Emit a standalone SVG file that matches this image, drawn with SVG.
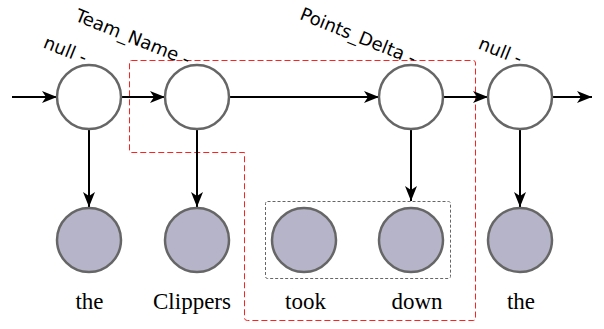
<svg xmlns="http://www.w3.org/2000/svg" width="604" height="329" viewBox="0 0 604 329">
  <style>
    .state { fill: #ffffff; stroke: #666666; stroke-width: 2.5; }
    .word { fill: #b6b4c8; stroke: #666666; stroke-width: 2.5; }
    .edge { fill: none; stroke: #000000; stroke-width: 2; }
    .tag { font-family: "DejaVu Sans", sans-serif; font-size: 18px; fill: #000000; text-anchor: end; }
    .tok { font-family: "Liberation Serif", "Times New Roman", serif; font-size: 23px; fill: #000000; text-anchor: middle; }
    .span { fill: none; stroke: #ff2020; stroke-width: 1; stroke-dasharray: 6 3; }
    .group { fill: none; stroke: #666666; stroke-width: 1; stroke-dasharray: 3 2; }
  </style>
  <defs>
    <marker id="arrow" viewBox="0 0 15 12" refX="15" refY="6" markerWidth="15" markerHeight="12" markerUnits="userSpaceOnUse" orient="auto">
      <path d="M0,0 L15,6 L0,12 L4,6 Z" fill="#000000"/>
    </marker>
  </defs>

  <!-- red dashed span outline -->
  <path class="span" d="M131.5,60.5 H473 Q475.5,60.5 475.5,63 V318 Q475.5,320.5 473,320.5 H247.5 Q244.5,320.5 244.5,318 V152.5 H131.5 Q129.5,152.5 129.5,150 V63 Q129.5,60.5 131.5,60.5 Z"/>

  <!-- gray dashed group around took/down -->
  <rect class="group" x="265.5" y="201.5" width="185" height="77" rx="2"/>

  <!-- rotated field labels -->
  <text class="tag" transform="translate(84,64) rotate(22)">null -</text>
  <text class="tag" transform="translate(187,66) rotate(22)">Team_Name -</text>
  <text class="tag" transform="translate(413,65) rotate(22)">Points_Delta -</text>
  <text class="tag" transform="translate(519,65) rotate(22)">null -</text>

  <g id="connectors">
    <line class="edge" x1="12" y1="97" x2="57" y2="97" marker-end="url(#arrow)"/>
    <line class="edge" x1="121" y1="97" x2="165" y2="97" marker-end="url(#arrow)"/>
    <line class="edge" x1="229" y1="97" x2="379" y2="97" marker-end="url(#arrow)"/>
    <line class="edge" x1="444" y1="97" x2="488" y2="97" marker-end="url(#arrow)"/>
    <line class="edge" x1="552" y1="97" x2="592" y2="97" marker-end="url(#arrow)"/>
    <line class="edge" x1="89" y1="129" x2="89" y2="207" marker-end="url(#arrow)"/>
    <line class="edge" x1="197" y1="129" x2="197" y2="207" marker-end="url(#arrow)"/>
    <line class="edge" x1="411" y1="129" x2="411" y2="201" marker-end="url(#arrow)"/>
    <line class="edge" x1="520" y1="129" x2="520" y2="207" marker-end="url(#arrow)"/>
  </g>

  <g id="s1"><circle class="state" cx="89" cy="97" r="32"/></g>
  <g id="s2"><circle class="state" cx="197" cy="97" r="32"/></g>
  <g id="s3"><circle class="state" cx="411" cy="97" r="32"/></g>
  <g id="s4"><circle class="state" cx="520" cy="97" r="32"/></g>

  <g id="w1"><circle class="word" cx="89" cy="240" r="32"/><text class="tok" x="89.5" y="308.5">the</text></g>
  <g id="w2"><circle class="word" cx="197" cy="240" r="32"/><text class="tok" x="192" y="308.5">Clippers</text></g>
  <g id="w3"><circle class="word" cx="304" cy="240" r="32"/><text class="tok" x="305.5" y="308.5">took</text></g>
  <g id="w4"><circle class="word" cx="411" cy="240" r="32"/><text class="tok" x="417" y="308.5">down</text></g>
  <g id="w5"><circle class="word" cx="520" cy="240" r="32"/><text class="tok" x="521" y="308.5">the</text></g>
</svg>
